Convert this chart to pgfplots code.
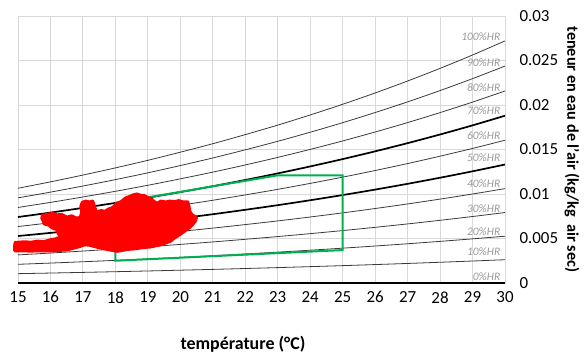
\documentclass[border=0pt]{standalone}
\usepackage{pgfplots}
\usepackage{pgfplotstable}
\pgfplotsset{compat=1.18}
\usepackage{fontspec}
\setmainfont{Carlito}
\definecolor{hrgreen}{HTML}{00B050}
\definecolor{gridgray}{HTML}{D9D9D9}
\definecolor{curvegray}{HTML}{3A3A3A}
\definecolor{labgray}{HTML}{9A9A9A}

\pgfplotstableread{
T h10 h20 h30 h40 h50 h60 h70 h80 h90 h100
15 0.001048 0.002100 0.003156 0.004215 0.005278 0.006344 0.007414 0.008487 0.009565 0.010646
16 0.001118 0.002240 0.003366 0.004496 0.005631 0.006769 0.007911 0.009058 0.010209 0.011364
17 0.001192 0.002388 0.003590 0.004795 0.006006 0.007221 0.008441 0.009665 0.010895 0.012129
18 0.001270 0.002544 0.003824 0.005110 0.006400 0.007696 0.008998 0.010304 0.011616 0.012934
19 0.001352 0.002709 0.004073 0.005442 0.006817 0.008199 0.009586 0.010980 0.012380 0.013785
20 0.001439 0.002885 0.004338 0.005797 0.007263 0.008736 0.010216 0.011703 0.013197 0.014698
21 0.001530 0.003068 0.004614 0.006167 0.007728 0.009297 0.010874 0.012458 0.014050 0.015651
22 0.001628 0.003264 0.004910 0.006563 0.008226 0.009897 0.011577 0.013266 0.014965 0.016672
23 0.001730 0.003469 0.005218 0.006977 0.008746 0.010525 0.012314 0.014113 0.015922 0.017742
24 0.001838 0.003686 0.005546 0.007417 0.009299 0.011192 0.013097 0.015013 0.016941 0.018880
25 0.001951 0.003915 0.005891 0.007880 0.009881 0.011895 0.013922 0.015962 0.018015 0.020082
26 0.002071 0.004156 0.006256 0.008369 0.010496 0.012638 0.014795 0.016966 0.019152 0.021353
27 0.002197 0.004410 0.006639 0.008884 0.011145 0.013421 0.015715 0.018025 0.020352 0.022695
28 0.002330 0.004678 0.007044 0.009427 0.011829 0.014249 0.016687 0.019145 0.021621 0.024117
29 0.002470 0.004960 0.007470 0.010000 0.012550 0.015121 0.017713 0.020326 0.022961 0.025617
30 0.002617 0.005257 0.007919 0.010604 0.013311 0.016042 0.018797 0.021575 0.024378 0.027205
}\hrtable

\begin{document}
\begin{tikzpicture}
\begin{axis}[
  scale only axis, width=487bp, height=267bp,
  xmin=15, xmax=30, ymin=0, ymax=0.03,
  xtick={15,16,...,30},
  ytick={0,0.005,0.01,0.015,0.02,0.025,0.03},
  yticklabels={0,0.005,0.01,0.015,0.02,0.025,0.03},
  scaled y ticks=false,
  /pgf/number format/assume math mode=true,
  grid=major,
  major grid style={draw=gridgray, line width=0.9bp},
  axis line style={draw=gridgray, line width=0.9bp},
  major tick length=0pt,
  yticklabel pos=right,
  tick label style={font=\fontsize{17}{20}\selectfont, text=black},
  xticklabel style={yshift=-5bp},
  yticklabel style={anchor=west, xshift=11bp},
  clip=false,
]
\coordinate (sw) at (rel axis cs:0,0);
\coordinate (ne) at (rel axis cs:1,1);
% RH curves
\addplot[curvegray, line width=0.8bp, smooth] table[x=T, y=h10] {\hrtable};
\addplot[curvegray, line width=0.8bp, smooth] table[x=T, y=h20] {\hrtable};
\addplot[curvegray, line width=0.8bp, smooth] table[x=T, y=h30] {\hrtable};
\addplot[curvegray, line width=0.8bp, smooth] table[x=T, y=h40] {\hrtable};
\addplot[black, line width=1.7bp, smooth] table[x=T, y=h50] {\hrtable};
\addplot[curvegray, line width=0.8bp, smooth] table[x=T, y=h60] {\hrtable};
\addplot[black, line width=1.7bp, smooth] table[x=T, y=h70] {\hrtable};
\addplot[curvegray, line width=0.8bp, smooth] table[x=T, y=h80] {\hrtable};
\addplot[curvegray, line width=0.8bp, smooth] table[x=T, y=h90] {\hrtable};
\addplot[curvegray, line width=0.8bp, smooth] table[x=T, y=h100] {\hrtable};
\addplot[black, line width=1.4bp] coordinates {(15,0) (30,0)};
% comfort zone
\addplot[hrgreen, line width=2bp, line join=miter] coordinates {
 (18,0.0090) (23,0.0121) (25,0.0121) (25,0.0037) (18,0.0025) (18,0.0090)};
% measured points (cloud outline)
\addplot[red, fill=red, line width=2.2bp, line join=round] coordinates {
 (14.88,0.00358) (14.88,0.00405) (14.90,0.00459) (15.2,0.00468) (15.4,0.00462)
 (15.6,0.00475) (15.8,0.00470) (15.99,0.00490) (16.15,0.00500) (16.29,0.00520)
 (16.22,0.00560) (16.20,0.00594) (16.05,0.00615) (15.95,0.00645) (15.80,0.00660)
 (15.77,0.00690) (15.72,0.00730) (15.74,0.00765) (15.90,0.00775) (16.08,0.00788)
 (16.20,0.00770) (16.35,0.00775) (16.51,0.00745) (16.65,0.00760) (16.80,0.00735)
 (16.91,0.00740) (16.95,0.00800) (16.92,0.00860) (16.97,0.00910) (17.08,0.00925)
 (17.20,0.00915) (17.31,0.00925) (17.36,0.00870) (17.40,0.00830) (17.43,0.00800)
 (17.55,0.00820) (17.68,0.00810) (17.78,0.00835) (17.90,0.00850) (17.99,0.00880)
 (18.08,0.00905) (18.18,0.00920) (18.30,0.00958) (18.42,0.00975) (18.55,0.00995)
 (18.66,0.01005) (18.78,0.00990) (18.90,0.00985) (19.00,0.00965) (19.10,0.00955)
 (19.18,0.00925) (19.28,0.00900) (19.40,0.00925) (19.55,0.00915) (19.68,0.00925)
 (19.82,0.00918) (19.95,0.00930) (20.10,0.00915) (20.24,0.00915) (20.28,0.00860)
 (20.30,0.00810) (20.36,0.00775) (20.51,0.00735) (20.47,0.00690) (20.38,0.00650)
 (20.30,0.00620) (20.18,0.00590) (20.05,0.00555) (19.95,0.00530) (19.82,0.00500)
 (19.70,0.00465) (19.55,0.00445) (19.40,0.00425) (19.20,0.00410) (19.07,0.00400)
 (18.90,0.00395) (18.70,0.00385) (18.54,0.00378) (18.35,0.00372) (18.20,0.00360)
 (18.05,0.00352) (17.90,0.00362) (17.75,0.00372) (17.53,0.00390) (17.35,0.00405)
 (17.20,0.00420) (17.06,0.00425) (16.90,0.00405) (16.75,0.00390) (16.51,0.00368)
 (16.30,0.00362) (15.99,0.00355) (15.70,0.00358) (15.40,0.00354) (15.10,0.00357)
 (14.88,0.00358)};
% HR labels
\foreach \lab/\yy in {100/0.02766, 90/0.02475, 80/0.02195, 70/0.01937, 60/0.01657,
  50/0.01411, 40/0.0112, 30/0.0084, 20/0.00582, 10/0.00347, 0/0.00067}{
  \edef\temp{\noexpand\node[anchor=east, inner sep=0pt, text=labgray,
    font=\noexpand\fontsize{11.5}{13}\noexpand\itshape\noexpand\selectfont]
    at (axis cs:29.86,\yy) {\lab\noexpand\%HR};}
  \temp
}
% axis titles
\node[font=\fontsize{18}{21}\bfseries\selectfont, anchor=center]
  at (axis description cs:0.462,-0.228) {température (°C)};
\node[font=\fontsize{16.3}{19}\bfseries\selectfont, anchor=center, rotate=-90]
  at (axis description cs:1.1376,0.5) {teneur en eau de l'air (kg/kg\ \ air sec)};
\end{axis}
\path ([shift={(-18bp,-73bp)}]sw) rectangle ([shift={(79bp,16bp)}]ne);
\end{tikzpicture}
\end{document}
